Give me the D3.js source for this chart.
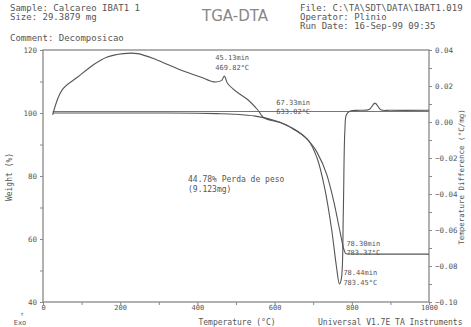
<!DOCTYPE html>
<html><head><meta charset="utf-8">
<script src="https://cdn.jsdelivr.net/npm/d3@7"></script>
<style>
html,body{margin:0;padding:0;background:#fff;}
svg{display:block;}
text{font-family:"DejaVu Sans Mono",monospace;fill:#555;}
</style></head>
<body>
<script>
// ---- data ----
const tgaT = [25, 100, 200, 300, 400, 450, 500, 550, 600, 640, 680, 710, 735, 755, 770, 780, 785, 800, 900, 1000];
const tgaW = [100, 100, 100, 100, 99.9, 99.8, 99.6, 99.0, 97.6, 95.6, 92.2, 87.5, 80.5, 71, 62, 56.5, 55.3, 55.22, 55.2, 55.2];
const dtaT = [25, 50, 90, 130, 165, 208, 245, 295, 355, 408, 442, 462, 470, 478, 500, 530, 556, 572, 616, 641, 686, 710, 730, 748, 760, 768, 773, 778, 782, 786, 795, 820, 845, 860, 875, 900, 1000];
const dtaV = [0.004, 0.018, 0.025, 0.0317, 0.036, 0.038, 0.038, 0.0345, 0.029, 0.025, 0.0223, 0.023, 0.0255, 0.0215, 0.017, 0.0125, 0.0068, 0.0024, -0.0004, -0.003, -0.0098, -0.02, -0.037, -0.06, -0.08, -0.09, -0.087, -0.05, -0.005, 0.004, 0.006, 0.0065, 0.007, 0.0105, 0.0068, 0.0065, 0.0065];
const refT = [25, 1000];
const refW = [100, 100];
const xTicks = [0, 200, 400, 600, 800, 1000];
const yTicks = [40, 60, 80, 100, 120];
const y2Ticks = [0.04, 0.02, 0.00, -0.02, -0.04, -0.06, -0.08, -0.10];
const headerLeft = ["Sample: Calcareo IBAT1 1", "Size:   29.3879 mg"];
const headerRight = ["File: C:\\TA\\SDT\\DATA\\IBAT1.019", "Operator: Plinio", "Run Date: 16-Sep-99 09:35"];
const annotations = [
  {t: 469.82, lines: ["45.13min", "469.82°C"]},
  {t: 633.02, lines: ["67.33min", "633.02°C"]},
  {t: 783.37, lines: ["78.30min", "783.37°C"]},
  {t: 783.45, lines: ["78.44min", "783.45°C"]}
];

// ---- layout ----
const W = 471, H = 327;
const L = 43, R = 429, T = 50, B = 302;
const svg = d3.select("body").append("svg").attr("width", W).attr("height", H);

const x = d3.scaleLinear().domain([0, 1000]).range([L, R]);
const y = d3.scaleLinear().domain([40, 120]).range([B, T]);
const y2 = d3.scaleLinear().domain([-0.10, 0.04]).range([B, T]);

const axisColor = "#888";
svg.append("rect").attr("x", L).attr("y", T).attr("width", R - L).attr("height", B - T)
  .attr("fill", "none").attr("stroke", axisColor).attr("stroke-width", 1.3);

const gx = svg.append("g").attr("transform", `translate(0,${B})`)
  .call(d3.axisBottom(x).tickValues(d3.range(0, 1001, 100)).tickSize(3).tickPadding(1).tickFormat(d => xTicks.includes(d) ? d : ""));
const gy = svg.append("g").attr("transform", `translate(${L},0)`)
  .call(d3.axisLeft(y).tickValues(d3.range(40, 121, 10)).tickSize(3).tickFormat(d => yTicks.includes(d) ? d : ""));
const gy2 = svg.append("g").attr("transform", `translate(${R},0)`)
  .call(d3.axisRight(y2).tickValues(d3.range(-0.10, 0.041, 0.01).map(v => +v.toFixed(2))).tickSize(3)
    .tickFormat(d => y2Ticks.some(v => Math.abs(v - d) < 1e-9) ? d3.format(".2f")(d) : ""));
[gx, gy, gy2].forEach(g => {
  g.select(".domain").remove();
  g.selectAll("line").attr("stroke", axisColor);
  g.selectAll("text").style("font-size", "7.5px").attr("fill", "#666");
});
gx.selectAll("text").style("font-size", "7px").attr("dy", "0.6em");

const lineW = d3.line().x(d => x(d[0])).y(d => y(d[1])).curve(d3.curveMonotoneX);
const lineD = d3.line().x(d => x(d[0])).y(d => y2(d[1])).curve(d3.curveCatmullRom.alpha(0.5));
svg.append("path").datum(refT.map((t, i) => [t, refW[i]]))
  .attr("d", d3.line().x(d => x(d[0])).y(d => y(d[1]) - 1.5))
  .attr("fill", "none").attr("stroke", "#777").attr("stroke-width", 1.1);
svg.append("path").datum(tgaT.map((t, i) => [t, tgaW[i]]))
  .attr("d", lineW).attr("fill", "none").attr("stroke", "#555").attr("stroke-width", 1.1);
svg.append("path").datum(dtaT.map((t, i) => [t, dtaV[i]]))
  .attr("d", lineD).attr("fill", "none").attr("stroke", "#555").attr("stroke-width", 1.1);

const annPos = [[-9, -27], [-11, -31], [1, -19], [-2, -20]];
const annY = [y2(0.0255), y2(-0.0015), y(55.3), y2(-0.09)];
annotations.forEach((a, i) => {
  const ax = x(a.t) + annPos[i][0];
  const ay = annY[i] + annPos[i][1];
  a.lines.forEach((s, j) => {
    svg.append("text").attr("x", ax).attr("y", ay + 11 + j * 9.5).text(s).style("font-size", "7px");
  });
});
svg.append("text").attr("x", 188).attr("y", 182).text("44.78% Perda de peso").style("font-size", "8px");
svg.append("text").attr("x", 188).attr("y", 192).text("(9.123mg)").style("font-size", "8px");

headerLeft.forEach((s, i) => svg.append("text").attr("x", 10).attr("y", 11 + i * 9).text(s).style("font-size", "9px"));
svg.append("text").attr("x", 10).attr("y", 41).text("Comment: Decomposicao").style("font-size", "9px");
headerRight.forEach((s, i) => svg.append("text").attr("x", 300).attr("y", 11 + i * 9).text(s).style("font-size", "9px"));
svg.append("text").attr("x", 235).attr("y", 21).attr("text-anchor", "middle").text("TGA-DTA")
  .style("font-size", "15px").style("font-family", "DejaVu Sans").style("fill", "#888");

svg.append("text").attr("transform", `translate(12,177) rotate(-90)`).attr("text-anchor", "middle")
  .text("Weight (%)").style("font-size", "8px");
svg.append("text").attr("transform", `translate(464,177) rotate(-90)`).attr("text-anchor", "middle")
  .text("Temperature Difference (°C/mg)").style("font-size", "7.5px");
svg.append("text").attr("x", 237).attr("y", 325).attr("text-anchor", "middle").text("Temperature (°C)").style("font-size", "8px");
svg.append("text").attr("x", 318).attr("y", 325).text("Universal V1.7E TA Instruments").style("font-size", "8px");
svg.append("text").attr("x", 22).attr("y", 316).attr("text-anchor", "middle").text("↑").style("font-size", "6px");
svg.append("text").attr("x", 20).attr("y", 325).attr("text-anchor", "middle").text("Exo").style("font-size", "7px");
</script>
</body></html>
